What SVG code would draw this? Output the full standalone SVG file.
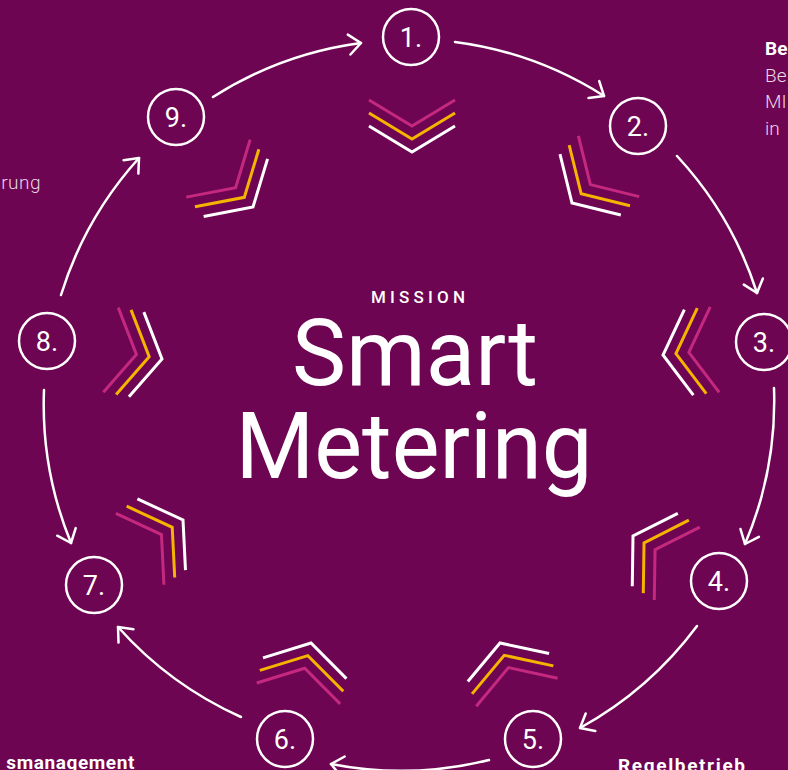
<svg xmlns="http://www.w3.org/2000/svg" width="788" height="770" viewBox="0 0 788 770">
<defs>
<style>
.node circle{fill:none;stroke:#fff;stroke-width:2.5}
.num{font-family:Roboto,"Noto Sans",sans-serif;font-size:27px;fill:#fff;text-anchor:middle}
.conn path{fill:none;stroke:#fff;stroke-width:2.5;stroke-linecap:round;marker-end:url(#ah)}
.chv polyline{fill:none;stroke-width:3;stroke-linejoin:miter}
.side{font-family:Roboto,"Noto Sans",sans-serif;font-size:19px;font-weight:300;fill:#EAD6E4}
.sideb{font-family:Roboto,"Noto Sans",sans-serif;font-size:19px;font-weight:700;fill:#fff}
.title{font-family:Roboto,"Noto Sans",sans-serif;fill:#fff;text-anchor:middle}
</style>
<marker id="ah" markerUnits="userSpaceOnUse" markerWidth="30" markerHeight="30" viewBox="-15 -15 30 30" refX="0" refY="0" orient="auto" overflow="visible">
<path d="M-12,-10 L0,0 L-12,10" fill="none" stroke="#fff" stroke-width="2.5" stroke-linecap="round" stroke-linejoin="round"/>
</marker>
<g id="chev" class="chv">
<polyline points="-43,-52 0,-26 43,-52" stroke="#C4297F"/>
<polyline points="-43,-39 0,-13 43,-39" stroke="#F5B400"/>
<polyline points="-43,-26 0,0 43,-26" stroke="#FFFFFF"/>
</g>
</defs>
<rect width="788" height="770" fill="#6D0552"/>

<g id="chevrons">
<use href="#chev" transform="translate(412,152) rotate(0)"/>
<use href="#chev" transform="translate(572,203) rotate(45)"/>
<use href="#chev" transform="translate(663,355) rotate(84)"/>
<use href="#chev" transform="translate(633,536) rotate(122)"/>
<use href="#chev" transform="translate(500,643) rotate(161)"/>
<use href="#chev" transform="translate(311,643) rotate(194)"/>
<use href="#chev" transform="translate(183,520) rotate(236)"/>
<use href="#chev" transform="translate(162,359) rotate(280)"/>
<use href="#chev" transform="translate(253,207) rotate(318)"/>
</g>

<g id="connectors" class="conn">
<path d="M213,97 A365,365 0 0 1 361,43"/>
<path d="M455,42 A365,365 0 0 1 604,96"/>
<path d="M677,156 A365,365 0 0 1 757,293"/>
<path d="M774,388 A365,365 0 0 1 745,544"/>
<path d="M697,626 A365,365 0 0 1 580,728"/>
<path d="M489,760 A365,365 0 0 1 331,764"/>
<path d="M241,717 A365,365 0 0 1 118,627"/>
<path d="M44,390 A365,365 0 0 0 71,543"/>
<path d="M61,295 A365,365 0 0 1 139,158"/>
</g>

<g id="node1" class="node"><circle cx="411" cy="37" r="28"/><text class="num" x="411" y="47">1.</text></g>
<g id="node2" class="node"><circle cx="638" cy="126" r="28"/><text class="num" x="638" y="136">2.</text></g>
<g id="node3" class="node"><circle cx="764" cy="342" r="28"/><text class="num" x="764" y="352">3.</text></g>
<g id="node4" class="node"><circle cx="719" cy="581" r="28"/><text class="num" x="719" y="591">4.</text></g>
<g id="node5" class="node"><circle cx="533" cy="739" r="28"/><text class="num" x="533" y="749">5.</text></g>
<g id="node6" class="node"><circle cx="285" cy="739" r="28"/><text class="num" x="285" y="749">6.</text></g>
<g id="node7" class="node"><circle cx="94" cy="585" r="28"/><text class="num" x="94" y="595">7.</text></g>
<g id="node8" class="node"><circle cx="47" cy="341" r="28"/><text class="num" x="47" y="351">8.</text></g>
<g id="node9" class="node"><circle cx="176" cy="117" r="28"/><text class="num" x="176" y="127">9.</text></g>

<g id="center">
<text class="title" x="419" y="303" font-size="17" font-weight="500" letter-spacing="2" textLength="96">MISSION</text>
<text class="title" x="415" y="385" font-size="92" textLength="246" lengthAdjust="spacingAndGlyphs">Smart</text>
<text class="title" x="414" y="478" font-size="92" textLength="357" lengthAdjust="spacingAndGlyphs">Metering</text>
</g>

<g id="side-texts">
<text class="sideb" x="765" y="55">Be</text>
<text class="side" x="765" y="82">Be</text>
<text class="side" x="765" y="108">MI</text>
<text class="side" x="765" y="135">in</text>
<text class="side" x="41" y="189" text-anchor="end" letter-spacing="0.5">rung</text>
<text class="sideb" x="135" y="769" text-anchor="end" font-size="20" letter-spacing="0.6">smanagement</text>
<text class="sideb" x="618" y="772" font-size="20" textLength="127">Regelbetrieb</text>
</g>
</svg>
